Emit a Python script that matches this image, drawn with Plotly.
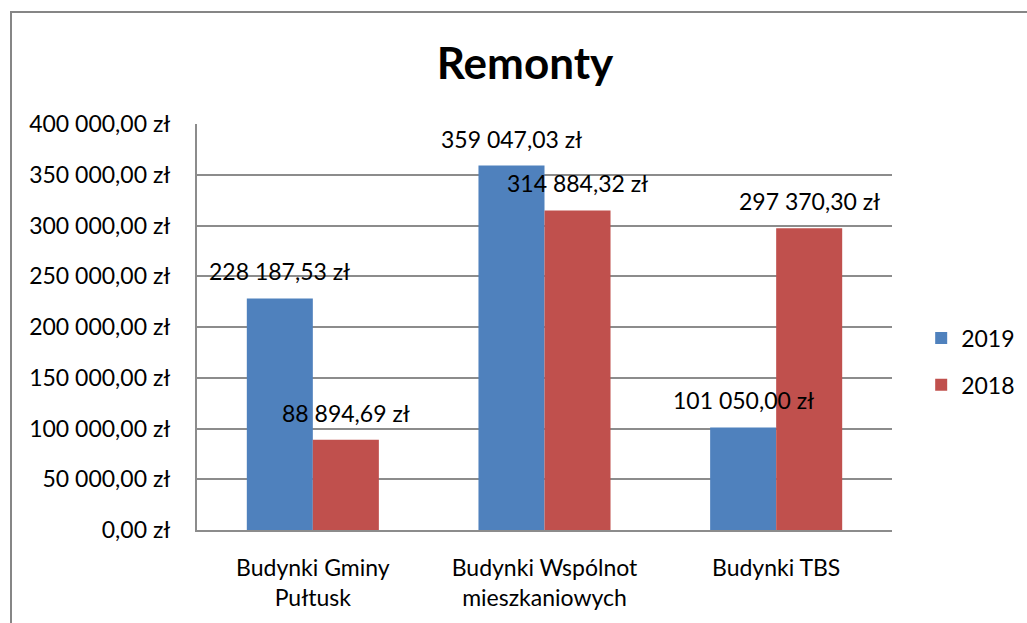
import plotly.graph_objects as go

# Repair spending per building group, in PLN
categories = ["Budynki Gminy<br>Pułtusk", "Budynki Wspólnot<br>mieszkaniowych", "Budynki TBS"]
values_2019 = [228187.53, 359047.03, 101050.00]
values_2018 = [88894.69, 314884.32, 297370.30]
series_names = ["2019", "2018"]
tick_values = [0, 50000, 100000, 150000, 200000, 250000, 300000, 350000, 400000]

FONT = "Lato, 'Open Sans', sans-serif"
SIZE = 23


def pln(v):
    """Format an amount Polish style: '228 187,53 zł'."""
    s = f"{v:,.2f}"
    s = s.replace(",", " ").replace(".", ",")
    return s + " zł"


tick_text = [pln(v) for v in tick_values]

fig = go.Figure()
fig.add_trace(go.Bar(x=categories, y=values_2019, name=series_names[0],
                     marker=dict(color="#4F81BD", line=dict(width=0)),
                     legendgroup="a"))
fig.add_trace(go.Bar(x=categories, y=values_2018, name=series_names[1],
                     marker=dict(color="#C0504D", line=dict(width=0)),
                     legendgroup="b"))

# Value labels sitting above each bar
annotations = []
for vals, shift in ((values_2019, -33), (values_2018, 33)):
    for cat, v in zip(categories, vals):
        annotations.append(dict(
            x=cat, y=v, xref="x", yref="y", text=pln(v), showarrow=False,
            xshift=shift, yshift=27, yanchor="middle", xanchor="center",
            font=dict(family=FONT, size=SIZE, color="#000000")))

fig.update_layout(
    width=1027, height=623,
    margin=dict(l=197, r=135, t=124, b=93, autoexpand=False),
    paper_bgcolor="white", plot_bgcolor="white",
    font=dict(family=FONT, size=SIZE, color="#000000"),
    title=dict(text="<b>Remonty</b>", x=(525 / 1027), xanchor="center",
               y=1 - 64 / 623, yanchor="middle",
               font=dict(family=FONT, size=44, color="#000000")),
    barmode="group", bargap=0.43, bargroupgap=0,
    showlegend=True,
    legend=dict(x=1.042, xanchor="left", y=0.415, yanchor="middle",
                font=dict(family=FONT, size=SIZE), tracegroupgap=14,
                itemwidth=30, bgcolor="rgba(0,0,0,0)"),
    annotations=annotations,
    shapes=[dict(type="rect", xref="paper", yref="paper",
                 x0=(11 - 197) / 695, x1=(1040 - 197) / 695,
                 y0=(530 - 640) / 406, y1=(530 - 12) / 406,
                 line=dict(color="#868686", width=2), layer="below")],
)

fig.update_yaxes(range=[0, 400000], tickvals=tick_values, ticktext=tick_text,
                 showgrid=True, gridcolor="#8C8C8C", gridwidth=2,
                 showline=True, linecolor="#8C8C8C", linewidth=2,
                 zeroline=False, ticks="", ticklabelstandoff=20,
                 tickfont=dict(family=FONT, size=SIZE))
fig.update_xaxes(showline=True, linecolor="#8C8C8C", linewidth=2,
                 showgrid=False, ticks="", ticklabelstandoff=16,
                 tickfont=dict(family=FONT, size=SIZE))

fig.write_html("out.html")
